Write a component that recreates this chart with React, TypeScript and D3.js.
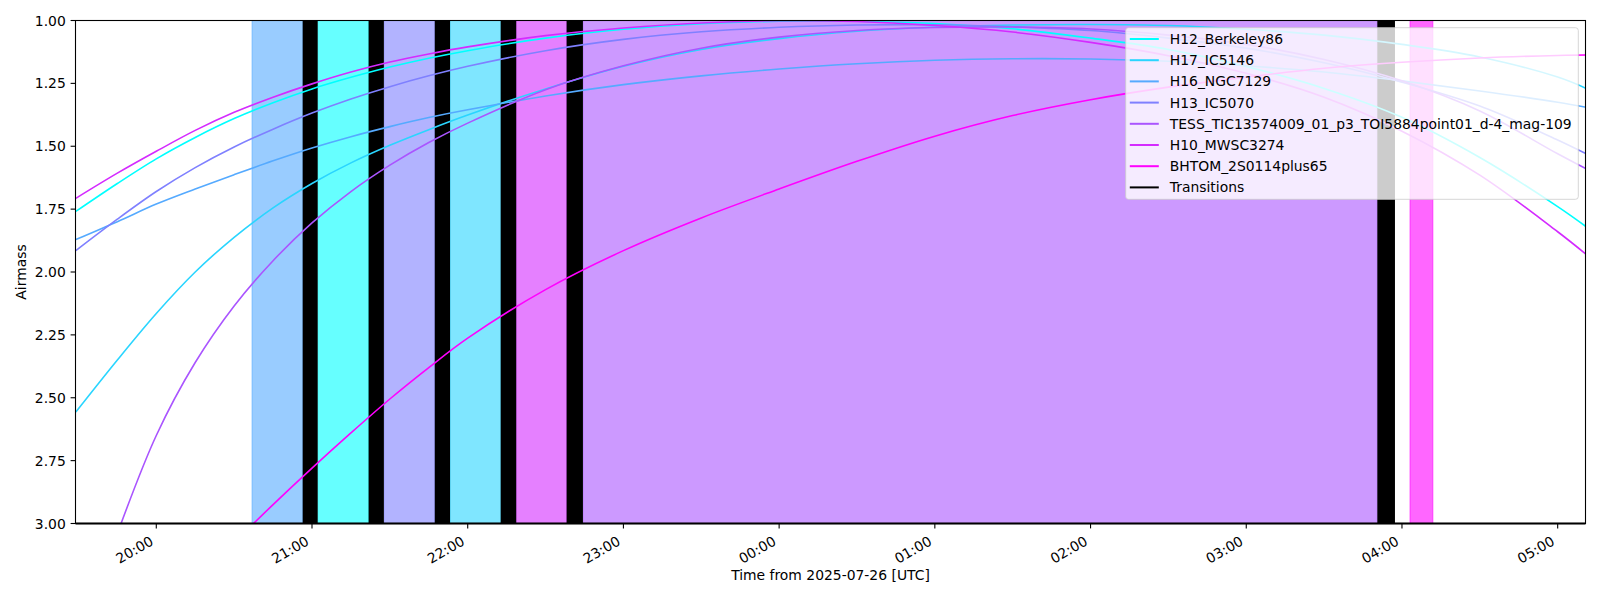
import React from "react";
import * as d3 from "d3";

// ---------- data ----------
const obsDate = "2025-07-26";
const gridTimes = [
  "19:29", "19:45", "20:00", "20:15", "20:30", "20:45", "21:00", "21:15", "21:30", "21:45",
  "22:00", "22:30", "23:00", "23:30", "00:00", "00:30", "01:00", "01:30", "02:00", "02:30",
  "03:00", "03:30", "04:00", "04:30", "05:00", "05:11",
];

const seriesNames = [
  "H12_Berkeley86",
  "H17_IC5146",
  "H16_NGC7129",
  "H13_IC5070",
  "TESS_TIC13574009_01_p3_TOI5884point01_d-4_mag-109",
  "H10_MWSC3274",
  "BHTOM_2S0114plus65",
];
const seriesColors = ["#00ffff", "#2ad5ff", "#55aaff", "#7f80ff", "#aa55ff", "#d42bff", "#ff00ff"];

const airmassH12 = [1.759, 1.648, 1.55, 1.465, 1.39, 1.327, 1.272, 1.226, 1.185, 1.15, 1.12, 1.07, 1.035, 1.013, 1.003, 1.003, 1.012, 1.033, 1.07, 1.115, 1.183, 1.27, 1.385, 1.545, 1.74, 1.82];
const airmassH17 = [2.557, 2.35, 2.165, 2.0, 1.862, 1.745, 1.648, 1.566, 1.496, 1.434, 1.376, 1.272, 1.182, 1.115, 1.072, 1.043, 1.026, 1.018, 1.016, 1.02, 1.035, 1.058, 1.095, 1.145, 1.225, 1.27];
const airmassH16 = [1.871, 1.8, 1.73, 1.67, 1.613, 1.558, 1.507, 1.462, 1.422, 1.386, 1.355, 1.3, 1.255, 1.22, 1.193, 1.172, 1.158, 1.152, 1.153, 1.162, 1.18, 1.205, 1.24, 1.28, 1.325, 1.345];
const airmassH13 = [1.915, 1.79, 1.68, 1.585, 1.503, 1.432, 1.368, 1.312, 1.263, 1.22, 1.182, 1.12, 1.075, 1.045, 1.027, 1.018, 1.017, 1.025, 1.04, 1.07, 1.11, 1.168, 1.245, 1.34, 1.475, 1.53];
const airmassTESS = [null, 3.04, 2.65, 2.36, 2.135, 1.955, 1.805, 1.68, 1.575, 1.485, 1.408, 1.275, 1.18, 1.11, 1.066, 1.04, 1.028, 1.026, 1.034, 1.058, 1.095, 1.155, 1.24, 1.36, 1.53, 1.59];
const airmassH10 = [1.707, 1.607, 1.52, 1.437, 1.365, 1.305, 1.252, 1.205, 1.165, 1.133, 1.105, 1.06, 1.03, 1.01, 1.001, 1.004, 1.02, 1.046, 1.087, 1.14, 1.21, 1.305, 1.44, 1.615, 1.84, 1.93];
const airmassBHTOM = [null, null, null, null, 3.075, 2.925, 2.78, 2.64, 2.505, 2.38, 2.263, 2.07, 1.915, 1.785, 1.67, 1.56, 1.46, 1.378, 1.315, 1.265, 1.225, 1.19, 1.166, 1.149, 1.139, 1.137];

const seriesValues = [airmassH12, airmassH17, airmassH16, airmassH13, airmassTESS, airmassH10, airmassBHTOM];

// observing blocks: start, end, target index
const blockStarts = ["20:36.9", "21:02.2", "21:27.7", "21:53.2", "22:18.7", "22:44.4", "04:03.1"];
const blockEnds = ["20:56.4", "21:21.8", "21:47.3", "22:12.7", "22:38.1", "03:50.5", "04:11.9"];
const blockTargets = [2, 0, 3, 1, 5, 4, 6];

const transitionStarts = ["20:56.4", "21:21.8", "21:47.3", "22:12.7", "22:38.1", "03:50.5"];
const transitionEnds = ["21:02.2", "21:27.7", "21:53.2", "22:18.7", "22:44.4", "03:57.3"];

const axisStart = "19:28.87";
const axisEnd = "05:10.72";
const yTicks = [1.0, 1.25, 1.5, 1.75, 2.0, 2.25, 2.5, 2.75, 3.0];

// ---------- helpers ----------
function toDate(hm: string): Date {
  const [hs, ms] = hm.split(":");
  const h = +hs;
  const m = +ms;
  const base = Date.UTC(2025, 6, 26, 0, 0, 0);
  const dayOffset = h < 12 ? 1 : 0;
  return new Date(base + dayOffset * 86400000 + h * 3600000 + m * 60000);
}

const W = 1600;
const H = 600;
const M = { left: 75.5, right: 1585.5, top: 20.5, bottom: 523.5 };
const FONT = "'DejaVu Sans', sans-serif";
const FS = 13.9;

export default function App() {
  const x = d3.scaleUtc().domain([toDate(axisStart), toDate(axisEnd)]).range([M.left, M.right]);
  const y = d3.scaleLinear().domain([1, 3]).range([M.top, M.bottom]);
  const xTicks = x.ticks(d3.utcHour.every(1)).filter((d) => x(d) >= M.left && x(d) <= M.right);
  const fmt = d3.utcFormat("%H:%M");

  const line = d3
    .line<{ t: Date; v: number | null }>()
    .defined((d) => d.v != null)
    .x((d) => x(d.t))
    .y((d) => y(d.v as number))
    .curve(d3.curveCatmullRom.alpha(0.5));

  const gridDates = gridTimes.map(toDate);

  const legendX0 = 1125.7;
  const legendX1 = 1578.3;
  const legendY0 = 27.7;
  const legendY1 = 199.3;
  const rowStep = 21.2;
  const rowY0 = 39;
  const legendItems = [...seriesNames.map((n, i) => ({ n, c: seriesColors[i] })), { n: "Transitions", c: "#000000" }];

  return (
    <svg width={W} height={H} style={{ position: "absolute", left: 0, top: 0, background: "#fff" }} fontFamily={FONT}>
      <defs>
        <clipPath id="plotClip">
          <rect x={M.left} y={M.top} width={M.right - M.left} height={M.bottom - M.top} />
        </clipPath>
      </defs>
      <rect x={0} y={0} width={W} height={H} fill="#fff" />
      <g clipPath="url(#plotClip)">
        {blockStarts.map((s, i) => {
          const x0 = x(toDate(s));
          const x1 = x(toDate(blockEnds[i]));
          const c = seriesColors[blockTargets[i]];
          return (
            <rect key={"b" + i} x={x0} y={M.top} width={x1 - x0} height={M.bottom - M.top}
              fill={c} fillOpacity={0.6} stroke={c} strokeOpacity={0.6} strokeWidth={1} />
          );
        })}
        {transitionStarts.map((s, i) => {
          const x0 = x(toDate(s));
          const x1 = x(toDate(transitionEnds[i]));
          return <rect key={"t" + i} x={x0} y={M.top} width={x1 - x0} height={M.bottom - M.top} fill="#000" />;
        })}
        {seriesValues.map((vals, i) => (
          <path key={"l" + i} d={line(vals.map((v, j) => ({ t: gridDates[j], v }))) || ""}
            fill="none" stroke={seriesColors[i]} strokeWidth={1.6} />
        ))}
      </g>
      {/* spines */}
      <rect x={M.left} y={M.top} width={M.right - M.left} height={M.bottom - M.top} fill="none" stroke="#000" strokeWidth={1.1} />
      <line x1={M.left} x2={M.right} y1={M.bottom} y2={M.bottom} stroke="#000" strokeWidth={2.2} />
      {/* x ticks */}
      {xTicks.map((d, i) => {
        const px = x(d);
        return (
          <g key={"xt" + i}>
            <line x1={px} x2={px} y1={M.bottom} y2={M.bottom + 4.9} stroke="#000" strokeWidth={1.1} />
            <text x={px - 2} y={544} textAnchor="end" fontSize={FS} fill="#000"
              transform={`rotate(-30, ${px - 2}, 544)`}>{fmt(d)}</text>
          </g>
        );
      })}
      {/* y ticks */}
      {yTicks.map((v, i) => (
        <g key={"yt" + i}>
          <line x1={M.left - 4.9} x2={M.left} y1={y(v)} y2={y(v)} stroke="#000" strokeWidth={1.1} />
          <text x={M.left - 9.7} y={y(v)} textAnchor="end" dominantBaseline="central" fontSize={FS} fill="#000">
            {d3.format(".2f")(v)}
          </text>
        </g>
      ))}
      <text x={(M.left + M.right) / 2} y={580} textAnchor="middle" fontSize={FS} fill="#000">
        Time from {obsDate} [UTC]
      </text>
      <text transform={`translate(20.5, ${(M.top + M.bottom) / 2}) rotate(-90)`} textAnchor="middle"
        dominantBaseline="central" fontSize={FS} fill="#000">Airmass</text>
      {/* legend */}
      <rect x={legendX0} y={legendY0} width={legendX1 - legendX0} height={legendY1 - legendY0} rx={2.8} ry={2.8}
        fill="#fff" fillOpacity={0.8} stroke="#cccccc" strokeOpacity={0.8} strokeWidth={1} />
      {legendItems.map((it, i) => {
        const cy = rowY0 + i * rowStep;
        return (
          <g key={"lg" + i}>
            <line x1={1129.8} x2={1158.8} y1={cy} y2={cy} stroke={it.c} strokeWidth={2} />
            <text x={1169.8} y={cy} dominantBaseline="central" fontSize={FS} fill="#000">{it.n}</text>
          </g>
        );
      })}
    </svg>
  );
}
